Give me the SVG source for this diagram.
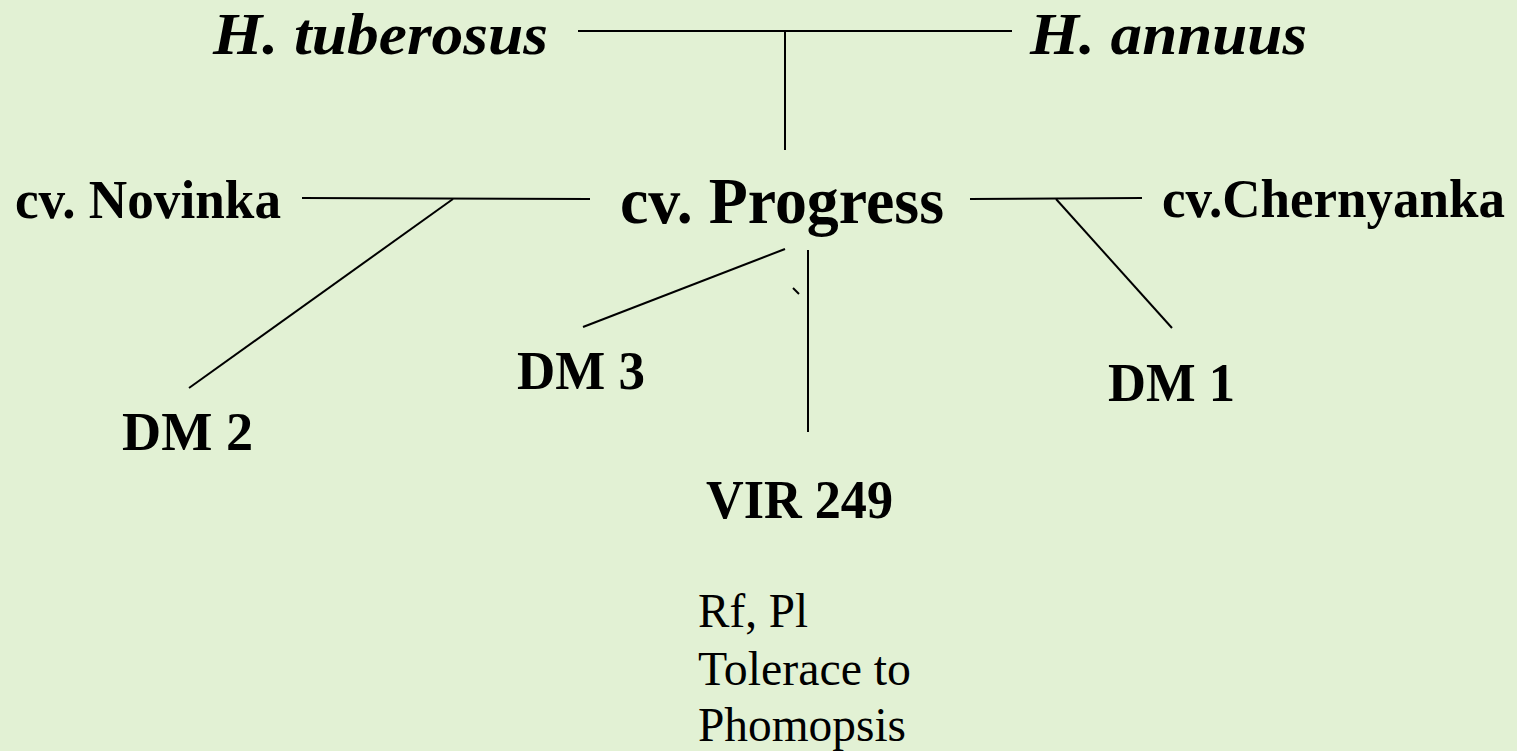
<svg xmlns="http://www.w3.org/2000/svg" width="1517" height="751" viewBox="0 0 1517 751">
<style>
.t{font-family:"Liberation Serif","Times New Roman",serif;fill:#000}
.b{font-weight:bold}
.i{font-style:italic}
.c line{stroke:#000;stroke-width:2;fill:none}
</style>
<rect width="1517" height="751" fill="#e2f1d4"/>
<g id="connectors" class="c">
<line x1="578" y1="31" x2="1012" y2="31"/>
<line x1="785" y1="31" x2="785" y2="150"/>
<line x1="302" y1="198" x2="590" y2="199"/>
<line x1="453" y1="199" x2="189" y2="388"/>
<line x1="970" y1="199" x2="1142" y2="198"/>
<line x1="1056" y1="199" x2="1172" y2="328"/>
<line x1="785" y1="249" x2="583" y2="327"/>
<line x1="808" y1="250" x2="808" y2="432"/>
<line x1="793" y1="288" x2="799" y2="294"/>
</g>
<g id="n-tuberosus"><text class="t b i" x="213" y="54" font-size="60" textLength="335" lengthAdjust="spacingAndGlyphs">H. tuberosus</text></g>
<g id="n-annuus"><text class="t b i" x="1030" y="54" font-size="60" textLength="277" lengthAdjust="spacingAndGlyphs">H. annuus</text></g>
<g id="n-novinka"><text class="t b" x="15" y="218" font-size="55" textLength="266" lengthAdjust="spacingAndGlyphs">cv. Novinka</text></g>
<g id="n-progress"><text class="t b" x="620" y="223" font-size="65" textLength="324" lengthAdjust="spacingAndGlyphs">cv. Progress</text></g>
<g id="n-chernyanka"><text class="t b" x="1162" y="217" font-size="55" textLength="343" lengthAdjust="spacingAndGlyphs">cv.Chernyanka</text></g>
<g id="n-dm3"><text class="t b" x="517" y="389" font-size="55" textLength="128" lengthAdjust="spacingAndGlyphs">DM 3</text></g>
<g id="n-dm2"><text class="t b" x="122" y="450" font-size="55" textLength="131" lengthAdjust="spacingAndGlyphs">DM 2</text></g>
<g id="n-dm1"><text class="t b" x="1108" y="401" font-size="55" textLength="127" lengthAdjust="spacingAndGlyphs">DM 1</text></g>
<g id="n-vir249"><text class="t b" x="706" y="518" font-size="55" textLength="187" lengthAdjust="spacingAndGlyphs">VIR 249</text></g>
<g id="n-traits">
<text class="t" x="698" y="627" font-size="48" textLength="110" lengthAdjust="spacingAndGlyphs">Rf, Pl</text>
<text class="t" x="698" y="685" font-size="48" textLength="213" lengthAdjust="spacingAndGlyphs">Tolerace to</text>
<text class="t" x="698" y="741" font-size="48" textLength="208" lengthAdjust="spacingAndGlyphs">Phomopsis</text>
</g>
</svg>
